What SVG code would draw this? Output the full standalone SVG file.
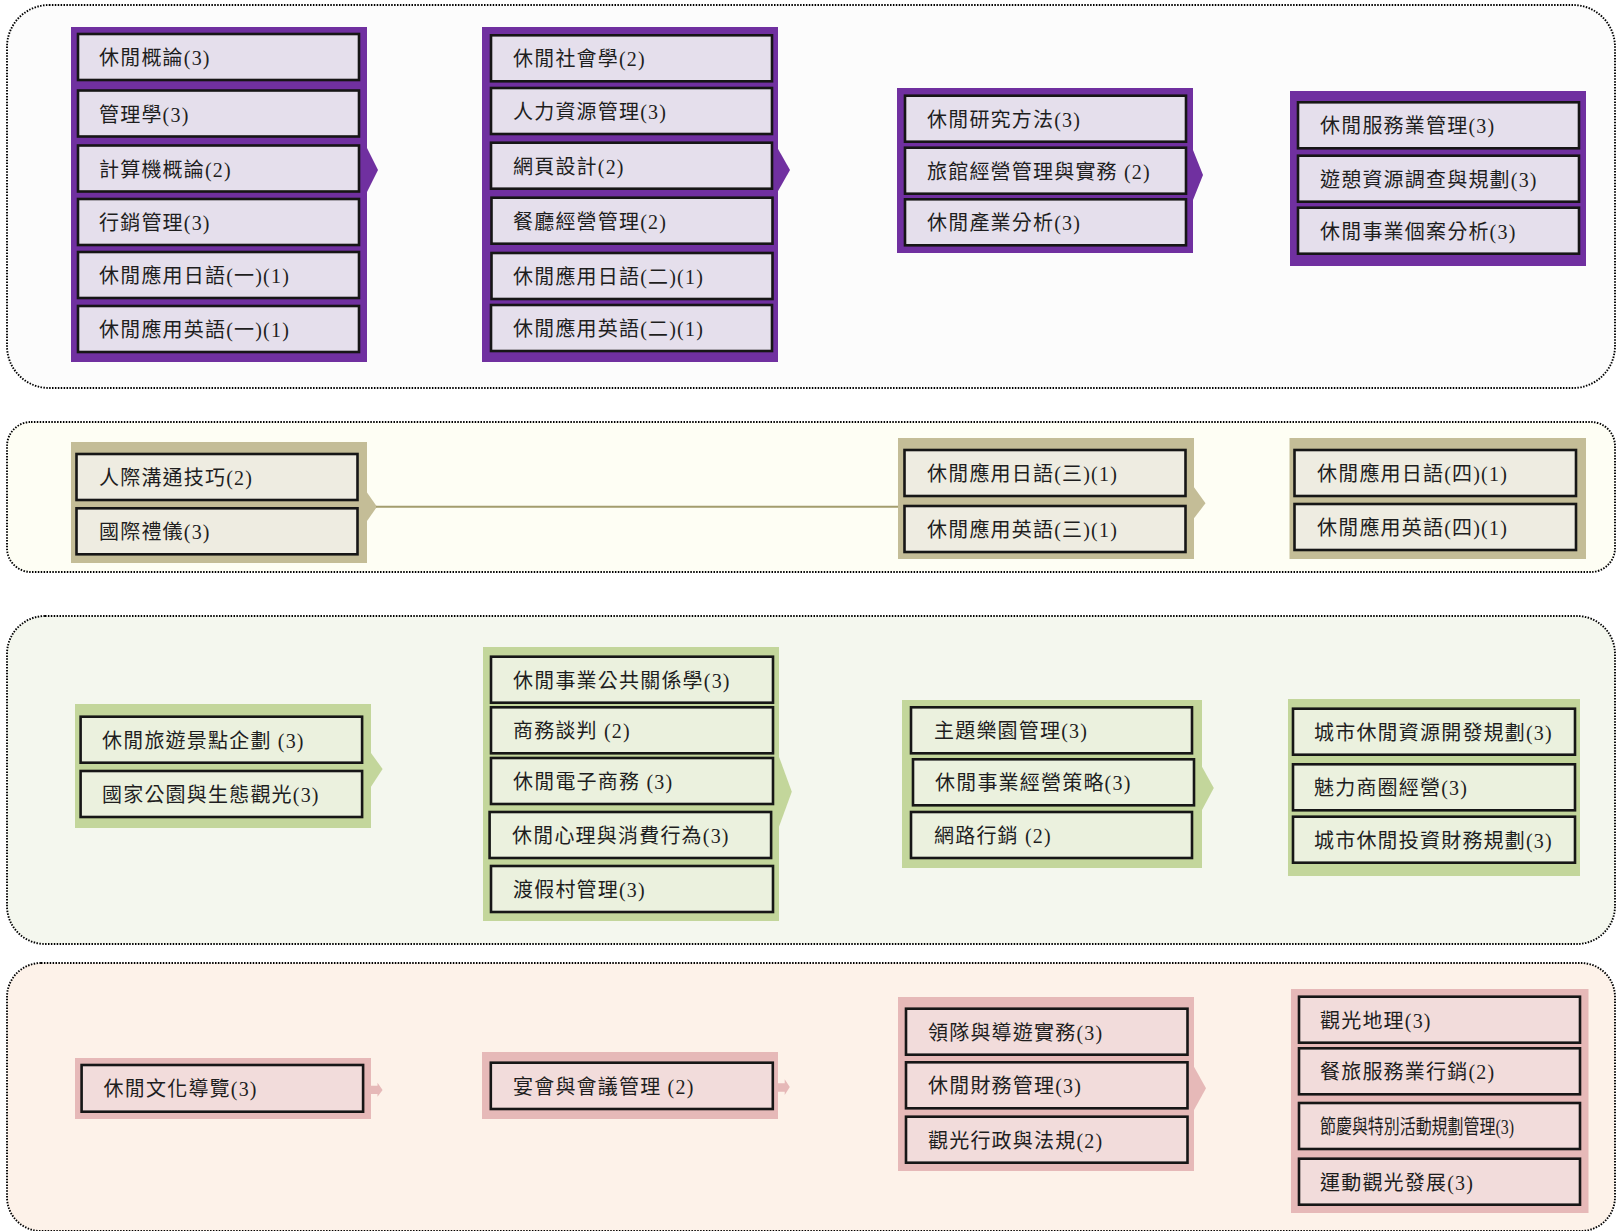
<svg xmlns="http://www.w3.org/2000/svg" width="1616" height="1231" viewBox="0 0 1616 1231">
<style>
.band{stroke:#000000;stroke-width:1.9;stroke-dasharray:1.5 1.4}
.pu{fill:#7030a0}.pu-in{fill:#e5dfec}
.tn{fill:#c4bd97}.tn-in{fill:#eeece1}
.gr{fill:#c3d69b}.gr-in{fill:#ebf1de}
.pk{fill:#e6b9b8}.pk-in{fill:#f2dcdb}
.box{stroke:#161616;stroke-width:2.6}
.t{font-family:"Liberation Serif","Noto Sans CJK TC",serif;font-size:20px;fill:#1e1e1e;letter-spacing:1.2px}
</style>
<rect width="1616" height="1231" fill="#ffffff"/>
<g id="bands">
<rect class="band" x="7" y="5" width="1608" height="383" rx="42" ry="42" fill="#fcfcfc"/>
<rect class="band" x="7" y="422" width="1608" height="150" rx="24" ry="24" fill="#fefef4"/>
<rect class="band" x="7" y="616" width="1608" height="328" rx="38" ry="38" fill="#f4f7ee"/>
<rect class="band" x="7" y="963" width="1608" height="268" rx="34" ry="34" fill="#fdf2e9"/>
</g>
<g id="connectors">
<polygon class="pu" points="367,148 378,170 367,192"/>
<polygon class="pu" points="777.5,148 790,170 777.5,192"/>
<polygon class="pu" points="1193,150 1203,175 1193,200"/>
<polygon class="tn" points="366.5,491.7 377,506.7 366.5,521.7"/>
<line x1="376" y1="506.7" x2="899" y2="506.7" stroke="#a39d6e" stroke-width="2"/>
<polygon class="tn" points="1194,487.3 1205.5,503.3 1194,518.3"/>
<polygon class="gr" points="371,753 382.6,769 371,786.7"/>
<polygon class="gr" points="779,756.7 791.8,791.7 779,826.7"/>
<polygon class="gr" points="1202,766.7 1213.8,788 1202,810"/>
<polygon class="pk" points="371,1085.7 377.5,1085.7 377.5,1082.7 382.6,1090 377.5,1096.7 377.5,1094 371,1094"/>
<polygon class="pk" points="778,1083.3 784.7,1083.3 784.7,1079.3 789.8,1087 784.7,1095 784.7,1091.7 778,1091.7"/>
<polygon class="pk" points="1194,1066.7 1206,1088.3 1194,1110"/>
</g>
<g id="node-p1">
<rect class="pu" x="71" y="27" width="296" height="335"/>
<rect class="pu-in box" x="78" y="34" width="281" height="46"/>
<rect class="pu-in box" x="78" y="90.5" width="281" height="46"/>
<rect class="pu-in box" x="78" y="145.5" width="281" height="46"/>
<rect class="pu-in box" x="78" y="199" width="281" height="46"/>
<rect class="pu-in box" x="78" y="252" width="281" height="46"/>
<rect class="pu-in box" x="78" y="306" width="281" height="46"/>
<text class="t" x="99" y="65">休閒概論(3)</text>
<text class="t" x="99" y="121.5">管理學(3)</text>
<text class="t" x="99" y="176.5">計算機概論(2)</text>
<text class="t" x="99" y="230">行銷管理(3)</text>
<text class="t" x="99" y="283">休閒應用日語(一)(1)</text>
<text class="t" x="99" y="337">休閒應用英語(一)(1)</text>
</g>
<g id="node-p2">
<rect class="pu" x="482" y="27" width="296" height="335"/>
<rect class="pu-in box" x="491" y="35.3" width="281" height="46"/>
<rect class="pu-in box" x="491" y="88" width="281" height="46"/>
<rect class="pu-in box" x="491" y="142.7" width="281" height="46"/>
<rect class="pu-in box" x="491.5" y="197.7" width="281" height="46"/>
<rect class="pu-in box" x="491.5" y="253" width="281" height="46"/>
<rect class="pu-in box" x="491" y="305" width="281" height="46"/>
<text class="t" x="513" y="66.3">休閒社會學(2)</text>
<text class="t" x="513" y="119">人力資源管理(3)</text>
<text class="t" x="513" y="173.7">網頁設計(2)</text>
<text class="t" x="513" y="228.7">餐廳經營管理(2)</text>
<text class="t" x="513" y="284">休閒應用日語(二)(1)</text>
<text class="t" x="513" y="336">休閒應用英語(二)(1)</text>
</g>
<g id="node-p3">
<rect class="pu" x="897" y="88" width="296" height="165"/>
<rect class="pu-in box" x="905" y="95.7" width="281" height="46"/>
<rect class="pu-in box" x="905" y="147.7" width="281" height="46"/>
<rect class="pu-in box" x="905" y="199.3" width="281" height="46"/>
<text class="t" x="927" y="126.7">休閒研究方法(3)</text>
<text class="t" x="927" y="178.7">旅館經營管理與實務 (2)</text>
<text class="t" x="927" y="230.3">休閒產業分析(3)</text>
</g>
<g id="node-p4">
<rect class="pu" x="1290" y="91" width="296" height="175"/>
<rect class="pu-in box" x="1298" y="102.3" width="281" height="46"/>
<rect class="pu-in box" x="1298" y="155.7" width="281" height="46"/>
<rect class="pu-in box" x="1298" y="207.7" width="281" height="46"/>
<text class="t" x="1320" y="133.3">休閒服務業管理(3)</text>
<text class="t" x="1320" y="186.7">遊憩資源調查與規劃(3)</text>
<text class="t" x="1320" y="238.7">休閒事業個案分析(3)</text>
</g>
<g id="node-t1">
<rect class="tn" x="71" y="442" width="296" height="121"/>
<rect class="tn-in box" x="76.5" y="454" width="281" height="46"/>
<rect class="tn-in box" x="76.5" y="508.3" width="281" height="46"/>
<text class="t" x="99" y="485">人際溝通技巧(2)</text>
<text class="t" x="99" y="539.3">國際禮儀(3)</text>
</g>
<g id="node-t3">
<rect class="tn" x="898" y="438" width="296" height="121"/>
<rect class="tn-in box" x="904.5" y="450" width="281" height="46"/>
<rect class="tn-in box" x="904.5" y="506" width="281" height="46"/>
<text class="t" x="927" y="481">休閒應用日語(三)(1)</text>
<text class="t" x="927" y="537">休閒應用英語(三)(1)</text>
</g>
<g id="node-t4">
<rect class="tn" x="1289.5" y="438" width="296.5" height="121"/>
<rect class="tn-in box" x="1294.5" y="450" width="281.5" height="46"/>
<rect class="tn-in box" x="1294.5" y="504" width="281.5" height="46"/>
<text class="t" x="1317" y="481">休閒應用日語(四)(1)</text>
<text class="t" x="1317" y="535">休閒應用英語(四)(1)</text>
</g>
<g id="node-g1">
<rect class="gr" x="75" y="704" width="296" height="124"/>
<rect class="gr-in box" x="80.6" y="716.7" width="281.5" height="46"/>
<rect class="gr-in box" x="80.6" y="771" width="281.5" height="46"/>
<text class="t" x="102" y="747.7">休閒旅遊景點企劃 (3)</text>
<text class="t" x="102" y="802">國家公園與生態觀光(3)</text>
</g>
<g id="node-g2">
<rect class="gr" x="483" y="647" width="296" height="274"/>
<rect class="gr-in box" x="491" y="656.7" width="282" height="46"/>
<rect class="gr-in box" x="491" y="707.3" width="282" height="46"/>
<rect class="gr-in box" x="491" y="758" width="282" height="46"/>
<rect class="gr-in box" x="489.6" y="812" width="281.5" height="46"/>
<rect class="gr-in box" x="491" y="866" width="282" height="46"/>
<text class="t" x="513" y="687.7">休閒事業公共關係學(3)</text>
<text class="t" x="513" y="738.3">商務談判 (2)</text>
<text class="t" x="513" y="789">休閒電子商務 (3)</text>
<text class="t" x="512" y="843">休閒心理與消費行為(3)</text>
<text class="t" x="513" y="897">渡假村管理(3)</text>
</g>
<g id="node-g3">
<rect class="gr" x="902" y="700" width="300" height="168"/>
<rect class="gr-in box" x="911" y="707.3" width="281" height="46"/>
<rect class="gr-in box" x="913" y="759.3" width="281" height="46"/>
<rect class="gr-in box" x="911" y="812" width="281" height="46"/>
<text class="t" x="934" y="738.3">主題樂園管理(3)</text>
<text class="t" x="935" y="790.3">休閒事業經營策略(3)</text>
<text class="t" x="934" y="843">網路行銷 (2)</text>
</g>
<g id="node-g4">
<rect class="gr" x="1288" y="699" width="292" height="177"/>
<rect class="gr-in box" x="1293" y="708.7" width="282" height="46"/>
<rect class="gr-in box" x="1293" y="764.3" width="282" height="46"/>
<rect class="gr-in box" x="1293" y="816.7" width="282" height="46"/>
<text class="t" x="1314" y="739.7">城市休閒資源開發規劃(3)</text>
<text class="t" x="1314" y="795.3">魅力商圈經營(3)</text>
<text class="t" x="1314" y="847.7">城市休閒投資財務規劃(3)</text>
</g>
<g id="node-k1">
<rect class="pk" x="75" y="1058" width="296" height="61"/>
<rect class="pk-in box" x="81.6" y="1065" width="281.5" height="46.7"/>
<text class="t" x="103.6" y="1096.3">休閒文化導覽(3)</text>
</g>
<g id="node-k2">
<rect class="pk" x="482" y="1052" width="296" height="67"/>
<rect class="pk-in box" x="490.8" y="1062.7" width="282" height="46.3"/>
<text class="t" x="513" y="1093.8">宴會與會議管理 (2)</text>
</g>
<g id="node-k3">
<rect class="pk" x="898" y="997" width="296" height="174"/>
<rect class="pk-in box" x="906" y="1008.7" width="281.5" height="46"/>
<rect class="pk-in box" x="906" y="1062.3" width="281.5" height="46"/>
<rect class="pk-in box" x="906" y="1116.7" width="281.5" height="46"/>
<text class="t" x="928" y="1039.7">領隊與導遊實務(3)</text>
<text class="t" x="928" y="1093.3">休閒財務管理(3)</text>
<text class="t" x="928" y="1147.7">觀光行政與法規(2)</text>
</g>
<g id="node-k4">
<rect class="pk" x="1291" y="989" width="297.5" height="224"/>
<rect class="pk-in box" x="1299" y="996.7" width="281" height="46"/>
<rect class="pk-in box" x="1299" y="1048.3" width="281" height="46"/>
<rect class="pk-in box" x="1299" y="1103" width="281" height="46"/>
<rect class="pk-in box" x="1299" y="1158.7" width="281" height="46"/>
<text class="t" x="1320" y="1027.7">觀光地理(3)</text>
<text class="t" x="1320" y="1079.3">餐旅服務業行銷(2)</text>
<text class="t" x="1320" y="1134" textLength="194" lengthAdjust="spacingAndGlyphs" style="letter-spacing:0">節慶與特別活動規劃管理(3)</text>
<text class="t" x="1320" y="1189.7">運動觀光發展(3)</text>
</g>
</svg>
